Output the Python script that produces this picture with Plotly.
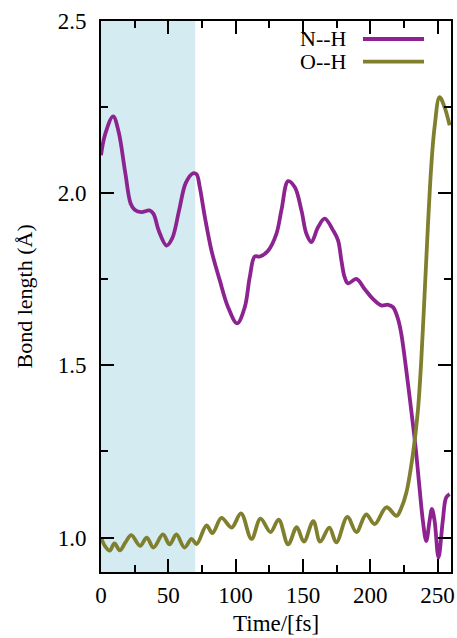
import plotly.graph_objects as go

# ---- data ----
nh_time = [0, 3, 9, 13, 18, 22, 25, 30, 36, 39, 43, 48.7, 53, 58, 63, 68.5, 71, 73.4, 77.2,
           82.1, 88.3, 94.4, 101.1, 106.8, 110.5, 114.2, 118, 124.1, 130.3, 134, 139, 144,
           148.9, 152.6, 156.3, 161.2, 166.2, 172.4, 176.1, 178.6, 181, 183.5, 189.7, 195.8,
           202, 208.2, 213.2, 216.9, 220.6, 223.1, 226.8, 230.5, 233.7, 236.6, 239.1, 241.6,
           244.1, 245.8, 247.8, 250.7, 253.9, 256.4, 259]
nh_len = [2.11, 2.17, 2.223, 2.18, 2.06, 1.97, 1.952, 1.945, 1.95, 1.94, 1.89, 1.848, 1.87,
          1.95, 2.03, 2.058, 2.055, 2.017, 1.93, 1.833, 1.746, 1.669, 1.622, 1.669, 1.756,
          1.816, 1.816, 1.833, 1.882, 1.95, 2.035, 2.017, 1.95, 1.882, 1.858, 1.901, 1.926,
          1.892, 1.863, 1.804, 1.756, 1.738, 1.751, 1.722, 1.693, 1.674, 1.676, 1.669, 1.635,
          1.591, 1.485, 1.368, 1.262, 1.145, 1.049, 0.99, 1.049, 1.083, 1.049, 0.942, 1.049,
          1.116, 1.126]

oh_time = [0, 3, 6.5, 10, 14, 18, 22.5, 29, 34, 39, 46, 51, 56, 62, 67.3, 71, 78.4, 82.8,
           89.5, 97, 104, 111.8, 118.5, 125.9, 132, 139, 145.4, 150.7, 157.7, 162.8, 169.6,
           174.8, 183, 189.7, 197, 203.3, 212, 219.6, 223, 226.8, 231.7, 235.4, 237.9, 240.4,
           242.8, 245.3, 247.8, 251.5, 255.2, 259]
oh_len = [1.0, 0.975, 0.962, 0.983, 0.963, 0.985, 1.007, 0.976, 1.0, 0.971, 1.009, 0.98,
          1.009, 0.971, 0.996, 0.981, 1.035, 1.013, 1.057, 1.029, 1.07, 0.996, 1.055, 1.016,
          1.052, 0.98, 1.03, 0.988, 1.048, 0.988, 1.029, 0.986, 1.06, 1.016, 1.067, 1.039,
          1.088, 1.063, 1.085, 1.13, 1.242, 1.368, 1.514, 1.708, 1.901, 2.076, 2.192, 2.279,
          2.25, 2.197]

series_names = ["N--H", "O--H"]
shade_range = [0, 70]
x_ticks = [0, 50, 100, 150, 200, 250]
y_ticks = [1.0, 1.5, 2.0, 2.5]

PURPLE = "#8c2390"
OLIVE = "#7f7f2e"
SHADE = "#d3ebf1"
FONT = "Liberation Serif"

FIG_W, FIG_H = 457, 638
ML, MR, MT, MB = 101, 6, 21, 66
W = FIG_W - ML - MR
H = FIG_H - MT - MB

fig = go.Figure()
fig.add_trace(go.Scatter(x=nh_time, y=nh_len, mode="lines", name=series_names[0],
                         line=dict(color=PURPLE, width=3.8, shape="spline", smoothing=1.0)))
fig.add_trace(go.Scatter(x=oh_time, y=oh_len, mode="lines", name=series_names[1],
                         line=dict(color=OLIVE, width=3.8, shape="spline", smoothing=1.0)))

fig.add_shape(type="rect", xref="x", yref="paper", x0=shade_range[0], x1=shade_range[1],
              y0=0, y1=1, fillcolor=SHADE, line=dict(width=0), layer="below")

# gnuplot-style legend (text left, sample right); positions in page pixels
legend_rows = [(series_names[0], PURPLE, 39.0), (series_names[1], OLIVE, 61.7)]
for name, col, py in legend_rows:
    yp = (FIG_H - MB - py) / H
    fig.add_annotation(xref="paper", yref="paper", x=(349 - ML) / W, y=yp,
                       xanchor="right", yanchor="middle", text=name, showarrow=False,
                       font=dict(family=FONT, size=22, color="black"))
    fig.add_shape(type="line", xref="paper", yref="paper",
                  x0=(363 - ML) / W, x1=(424 - ML) / W, y0=yp, y1=yp,
                  line=dict(color=col, width=3.8))

fig.add_annotation(xref="paper", yref="paper", x=0.5, y=0, yshift=-51,
                   xanchor="center", yanchor="middle", text="Time/[fs]", showarrow=False,
                   font=dict(family=FONT, size=23, color="black"))
fig.add_annotation(xref="paper", yref="paper", x=0, y=0.5, xshift=-77,
                   xanchor="center", yanchor="middle", text="Bond length (Å)",
                   textangle=-90, showarrow=False,
                   font=dict(family=FONT, size=22, color="black"))

axis_common = dict(showline=True, linecolor="black", linewidth=2, mirror="ticks",
                   ticks="inside", ticklen=13, tickwidth=1.5, tickcolor="black",
                   showgrid=False, zeroline=False, automargin=False,
                   tickfont=dict(family=FONT, size=23, color="black"))

fig.update_xaxes(range=[0, 260], tickvals=x_ticks, ticktext=[str(v) for v in x_ticks],
                 minor=dict(ticks="inside", ticklen=7, tickwidth=1.5, tickcolor="black",
                            dtick=25, tick0=0, showgrid=False),
                 ticklabelstandoff=1, **axis_common)
fig.update_yaxes(range=[0.9, 2.5], tickvals=y_ticks, ticktext=[f"{v:.1f}" for v in y_ticks],
                 minor=dict(ticks="inside", ticklen=7, tickwidth=1.5, tickcolor="black",
                            dtick=0.25, tick0=0, showgrid=False),
                 ticklabelstandoff=8, **axis_common)

fig.update_layout(width=FIG_W, height=FIG_H, showlegend=False,
                  margin=dict(l=ML, r=MR, t=MT, b=MB),
                  plot_bgcolor="white", paper_bgcolor="white",
                  font=dict(family=FONT, size=22, color="black"))

fig.write_html("out.html", config={"displayModeBar": False},
               post_script="document.body.style.margin='0';document.body.style.overflow='hidden';")
